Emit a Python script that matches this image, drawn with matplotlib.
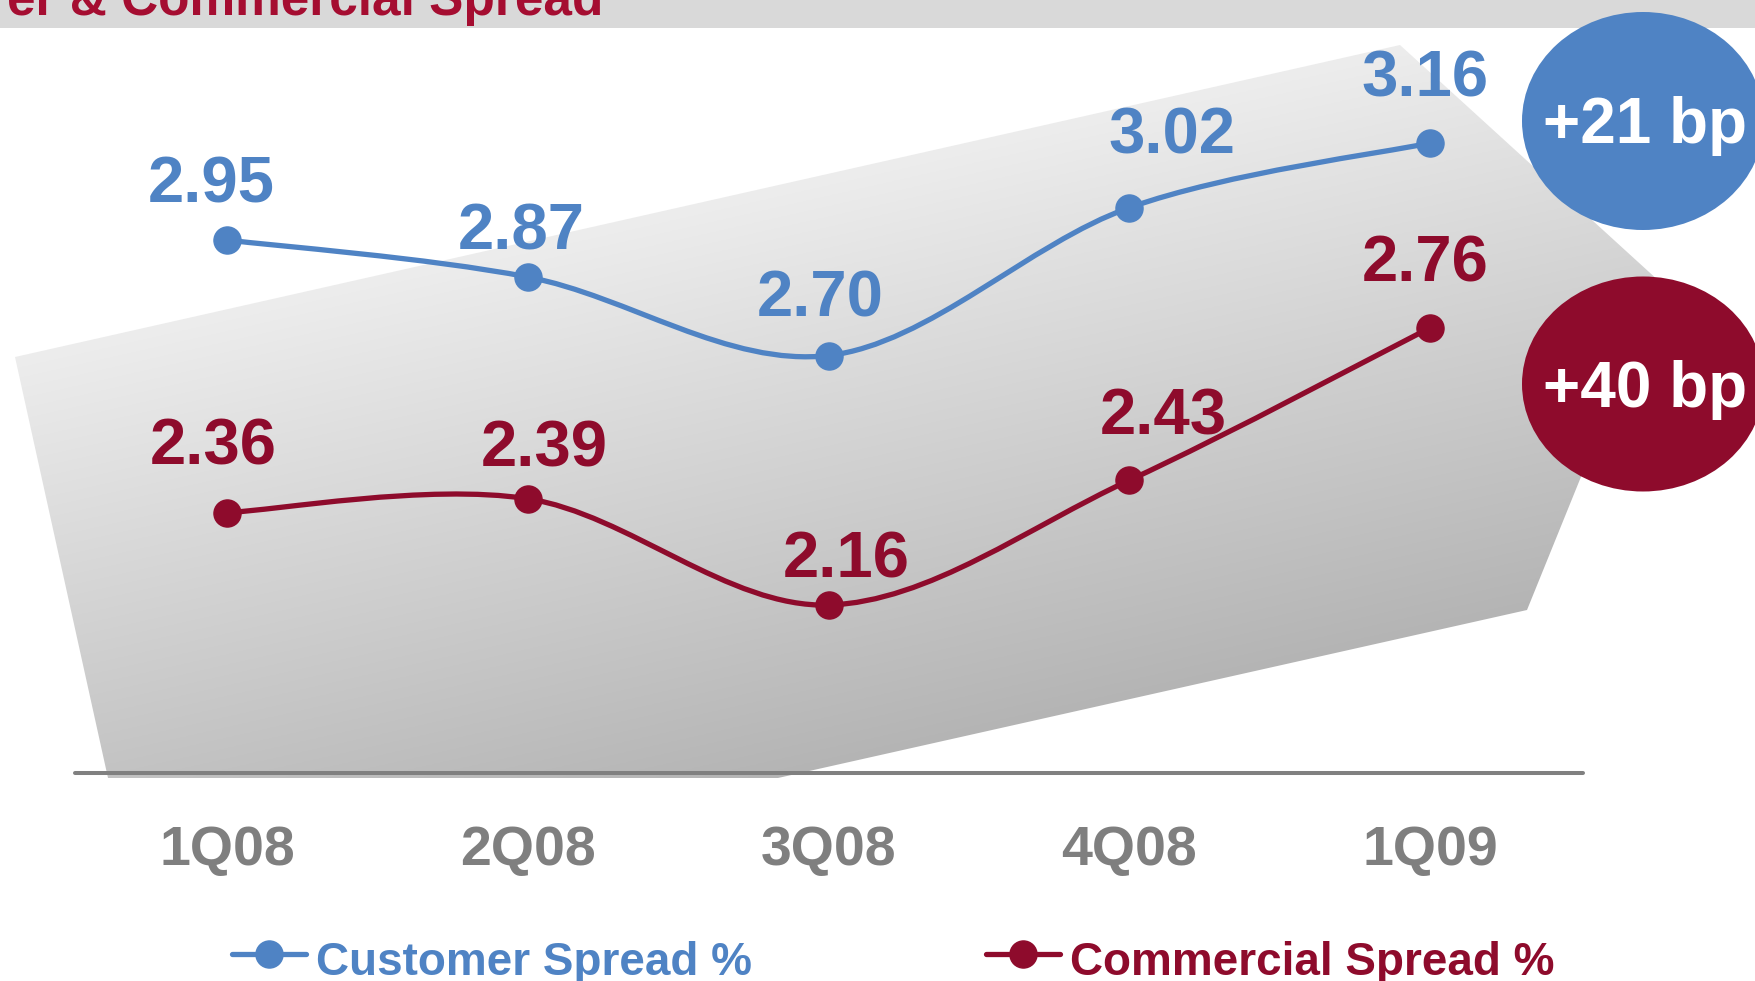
import numpy as np
import matplotlib
matplotlib.use('Agg')
import matplotlib.pyplot as plt
from matplotlib.path import Path
from matplotlib.patches import PathPatch, Polygon, Ellipse, Rectangle

# data
quarters = ['1Q08', '2Q08', '3Q08', '4Q08', '1Q09']
customer_spread = [2.95, 2.87, 2.70, 3.02, 3.16]
commercial_spread = [2.36, 2.39, 2.16, 2.43, 2.76]
series_names = ['Customer Spread %', 'Commercial Spread %']
changes = ['+21 bp', '+40 bp']
title_text = 'er & Commercial Spread'

W, H = 1756, 981
BLUE = '#4F83C4'
RED = '#8E0B2C'
GRAY = '#7F7F7F'
FONT = 'Liberation Sans'


def smooth_path(xs, ys):
    # excel-like smoothed line: catmull-rom turned into cubic beziers
    pts = np.column_stack([xs, ys]).astype(float)
    n = len(pts)
    verts = [pts[0]]
    codes = [Path.MOVETO]
    for i in range(n - 1):
        p0 = pts[max(i - 1, 0)]
        p1 = pts[i]
        p2 = pts[i + 1]
        p3 = pts[min(i + 2, n - 1)]
        verts += [p1 + (p2 - p0) / 6, p2 - (p3 - p1) / 6, p2]
        codes += [Path.CURVE4] * 3
    return Path(verts, codes)


fig = plt.figure(figsize=(W / 100, H / 100), dpi=100)

# background layer in pixel coords (top-left origin)
bg = fig.add_axes([0, 0, 1, 1])
bg.axis('off')

bg.add_patch(Rectangle((0, 0), W, 28, color='#D9D9D9', lw=0))
bg.text(603, 15, title_text, ha='right', va='baseline', fontsize=37,
        fontweight='bold', color='#A50D31', family=FONT)

# grey gradient backdrop
shape = Polygon([(15, 357), (1400, 45), (1660, 282), (1527, 610), (778, 778), (108, 778)],
                closed=True, fc='none', ec='none')
bg.add_patch(shape)
gx, gy = np.meshgrid(np.arange(0, W, 2), np.arange(0, H, 2))
t = np.clip(((gx - 15) * 0.2198 + (gy - 357) * 0.9755) / 580, 0, 1)
shade = (237 - 57 * t) / 255
img = np.dstack([shade] * 3)
im = bg.imshow(img, extent=(0, W, H, 0), origin='upper', aspect='auto', zorder=1)
im.set_clip_path(shape)

# base line
bg.plot([75, 1583], [773, 773], color='#808080', lw=2.9, solid_capstyle='round', zorder=2)

# change bubbles
bg.add_patch(Ellipse((1643, 121), 242, 218, color=BLUE, lw=0, zorder=3))
bg.add_patch(Ellipse((1643, 384), 242, 215, color=RED, lw=0, zorder=3))
bg.text(1645, 143, changes[0], ha='center', va='baseline', fontsize=46,
        fontweight='bold', color='white', family=FONT, zorder=4)
bg.text(1645, 407, changes[1], ha='center', va='baseline', fontsize=46,
        fontweight='bold', color='white', family=FONT, zorder=4)

# legend
for (x0, x1, name, col) in [(232, 306, series_names[0], BLUE), (986, 1060, series_names[1], RED)]:
    bg.plot([x0, x1], [954, 954], color=col, lw=3.8, solid_capstyle='round', zorder=2)
    bg.plot([(x0 + x1) / 2], [954], 'o', ms=19.5, color=col, zorder=3)
    bg.text(x1 + 10, 975, name, ha='left', va='baseline', fontsize=33,
            fontweight='bold', color=col, family=FONT)

bg.set_xlim(0, W)
bg.set_ylim(H, 0)

# data layer
ax = fig.add_axes([0, 0, 1, 1])
ax.patch.set_alpha(0)
ax.axis('off')
ax.set_xlim(-0.7548, 5.0839)
ax.set_ylim(1.3462, 3.4695)

x = np.arange(len(quarters))
label_offsets = {
    'cust': [(-16, 38), (-7, 27), (-8, 39), (43, 54), (-5, 46)],
    'comm': [(-14, 48), (16, 32), (18, 28), (34, 46), (-5, 46)],
}
for vals, col, key in [(customer_spread, BLUE, 'cust'), (commercial_spread, RED, 'comm')]:
    ax.add_patch(PathPatch(smooth_path(x, vals), fill=False, ec=col, lw=3.8, capstyle='round'))
    ax.plot(x, vals, 'o', ms=19.5, color=col, lw=0)
    for i, v in enumerate(vals):
        ax.annotate(f'{v:.2f}', (i, v), xytext=label_offsets[key][i], textcoords='offset pixels',
                    ha='center', va='baseline', fontsize=47, fontweight='bold',
                    color=col, family=FONT)

for i, q in enumerate(quarters):
    ax.annotate(q, (i, H - 865), xycoords=('data', 'figure pixels'), ha='center',
                va='baseline', fontsize=40, fontweight='bold', color=GRAY, family=FONT)

fig.savefig('out.png', dpi=100)
